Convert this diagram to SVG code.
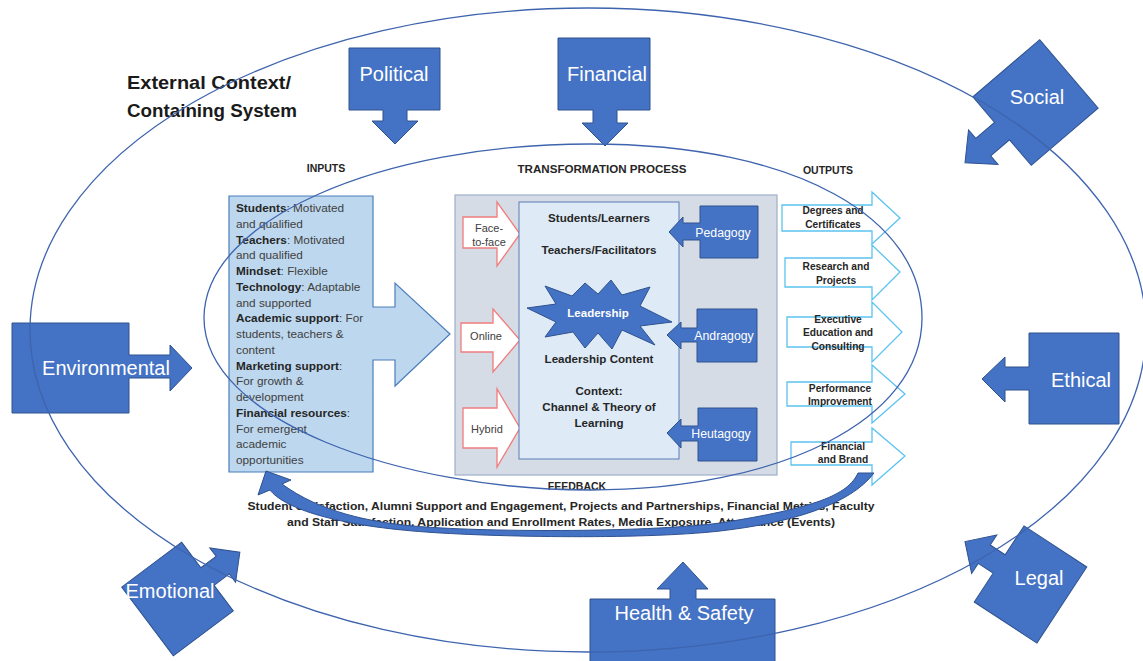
<svg xmlns="http://www.w3.org/2000/svg" width="1143" height="661" viewBox="0 0 1143 661">
<style>
.blue{fill:#4472C4;stroke:#2F528F;stroke-width:1}
.wt{fill:#fff;font-family:"Liberation Sans",Arial,sans-serif;font-size:20px;text-anchor:middle}
.ws{fill:#fff;font-family:"Liberation Sans",Arial,sans-serif;font-size:12.3px;text-anchor:middle}
.ring{fill:none;stroke:#3E64AE;stroke-width:1.3}
.out{fill:#fff;stroke:#5BC3F0;stroke-width:1.3}
.red{fill:#fff;stroke:#F07C7C;stroke-width:1.3}
.ot{font-family:"Liberation Sans",Arial,sans-serif;font-weight:bold;font-size:10.2px;fill:#262626;text-anchor:middle}
.hd{font-family:"Liberation Sans",Arial,sans-serif;font-weight:bold;font-size:10.5px;fill:#262626;text-anchor:middle}
.ct{font-family:"Liberation Sans",Arial,sans-serif;font-weight:bold;font-size:11.6px;fill:#262626;text-anchor:middle}
.in{font-family:"Liberation Sans",Arial,sans-serif;font-size:11.8px;fill:#404040}
.in tspan.b{font-weight:bold;fill:#262626}
.rt{font-family:"Liberation Sans",Arial,sans-serif;font-size:11px;fill:#404040;text-anchor:middle}
</style>
<rect width="1143" height="661" fill="#fff"/>

<g id="title">
<text font-family="Liberation Sans, Arial, sans-serif" font-weight="bold" font-size="19px" fill="#1a1a1a"><tspan x="127" y="89" textLength="164" lengthAdjust="spacingAndGlyphs">External Context/</tspan><tspan x="127" y="117" textLength="170" lengthAdjust="spacingAndGlyphs">Containing System</tspan></text>
</g>

<g id="political">
<polygon class="blue" points="349,48 440,48 440,110 407,110 407,121 418,121 395,144 372,121 383,121 383,110 349,110"/>
<text class="wt" x="394" y="81">Political</text>
</g>
<g id="financial">
<polygon class="blue" points="558,38 650,38 650,110 617,110 617,123 628,123 605,146 582,123 593,123 593,110 558,110"/>
<text class="wt" x="607" y="81">Financial</text>
</g>
<g id="social">
<polygon class="blue" transform="translate(1035.5,102.5) rotate(139.5)" points="-44,-45 44,-45 44,-11.5 68.7,-11.5 68.7,-22.7 92.7,0 68.7,22.7 68.7,11.5 44,11.5 44,45 -44,45"/>
<text class="wt" x="1037" y="104">Social</text>
</g>
<g id="environmental">
<polygon class="blue" points="12,323 129,323 129,355 170,355 170,345 192,368 170,391 170,378 129,378 129,413 12,413"/>
<text class="wt" x="106" y="375">Environmental</text>
</g>
<g id="ethical">
<polygon class="blue" points="1029,333 1119,333 1119,424 1029,424 1029,390 1005,390 1005,402 982,379 1005,357 1005,367 1029,367"/>
<text class="wt" x="1081" y="387">Ethical</text>
</g>
<g id="emotional">
<polygon class="blue" transform="translate(177.5,599) rotate(-36.9)" points="-37.5,-43 37.5,-43 37.5,-11 56.5,-11 56.5,-21.5 78,0 56.5,21.5 56.5,11 37.5,11 37.5,43 -37.5,43"/>
<text class="wt" x="170" y="598">Emotional</text>
</g>
<g id="legal">
<polygon class="blue" transform="translate(1030.5,584.5) rotate(-146.8)" points="-37.5,-45.5 37.5,-45.5 37.5,-11 55.3,-11 55.3,-23 78.3,0 55.3,23 55.3,11 37.5,11 37.5,45.5 -37.5,45.5"/>
<text class="wt" x="1039" y="585">Legal</text>
</g>
<g id="health-safety">
<polygon class="blue" points="590,599 670,599 670,589 657,589 683,562 708,589 696,589 696,599 775,599 775,668 590,668"/>
<text class="wt" x="684" y="620">Health &amp; Safety</text>
</g>

<g id="section-labels">
<text class="hd" x="326" y="172">INPUTS</text>
<text class="hd" x="602" y="173" textLength="169" lengthAdjust="spacingAndGlyphs">TRANSFORMATION PROCESS</text>
<text class="hd" x="828" y="174">OUTPUTS</text>
</g>

<g id="inputs">
<polygon points="229,196 373,196 373,307 395,307 395,283 450,334 395,386 395,360 373,360 373,472 229,472" fill="#BDD7EE" stroke="#4A7EBB" stroke-width="1.2"/>
<text class="in" x="236" y="212"><tspan class="b">Students</tspan>: Motivated</text>
<text class="in" x="236" y="227.8">and qualified</text>
<text class="in" x="236" y="243.5"><tspan class="b">Teachers</tspan>: Motivated</text>
<text class="in" x="236" y="259.3">and qualified</text>
<text class="in" x="236" y="275"><tspan class="b">Mindset</tspan>: Flexible</text>
<text class="in" x="236" y="290.8"><tspan class="b">Technology</tspan>: Adaptable</text>
<text class="in" x="236" y="306.5">and supported</text>
<text class="in" x="236" y="322.3"><tspan class="b">Academic support</tspan>: For</text>
<text class="in" x="236" y="338">students, teachers &amp;</text>
<text class="in" x="236" y="353.8">content</text>
<text class="in" x="236" y="369.5"><tspan class="b">Marketing support</tspan>:</text>
<text class="in" x="236" y="385.3">For growth &amp;</text>
<text class="in" x="236" y="401">development</text>
<text class="in" x="236" y="416.8"><tspan class="b">Financial resources</tspan>:</text>
<text class="in" x="236" y="432.5">For emergent</text>
<text class="in" x="236" y="448.3">academic</text>
<text class="in" x="236" y="464">opportunities</text>
</g>

<g id="transformation">
<rect x="455" y="195" width="322" height="280" fill="#D6DCE5" stroke="#9DAFC8" stroke-width="1.2"/>
</g>
<g id="face-to-face">
<polygon class="red" points="463,217 497,217 497,202 520,234 497,266 497,248 463,248"/>
<text class="rt" x="489" y="232">Face-</text>
<text class="rt" x="489" y="246">to-face</text>
</g>
<g id="online">
<polygon class="red" points="461,323 493,323 493,309 520,340 493,372 493,352 461,352"/>
<text class="rt" x="486" y="340">Online</text>
</g>
<g id="hybrid">
<polygon class="red" points="463,408 497,408 497,389 520,428 497,467 497,448 463,448"/>
<text class="rt" x="487" y="433">Hybrid</text>
</g>
<g id="core">
<rect x="519" y="202" width="160" height="257" fill="#DEEBF7" stroke="#5B7DB8" stroke-width="1"/>
<text class="ct" x="599" y="222">Students/Learners</text>
<text class="ct" x="599" y="254">Teachers/Facilitators</text>
<text class="ct" x="599" y="363">Leadership Content</text>
<text class="ct" x="599" y="395">Context:</text>
<text class="ct" x="599" y="411">Channel &amp; Theory of</text>
<text class="ct" x="599" y="427">Learning</text>
</g>
<g id="leadership">
<polygon class="blue" points="527,308 556,304 545,286 572,296 585,283 598,294 611,280 622,295 650,287 640,306 672,322 640,326 655,345 622,330 612,349 598,333 585,348 573,332 545,337 556,322"/>
<text x="598" y="317" fill="#fff" font-family="Liberation Sans, Arial, sans-serif" font-weight="bold" font-size="11.5px" text-anchor="middle">Leadership</text>
</g>
<g id="pedagogy">
<polygon class="blue" points="700,206 758,206 758,258 700,258 700,240 683,240 683,247 669,232 683,217 683,223 700,223"/>
<text class="ws" x="723" y="237">Pedagogy</text>
</g>
<g id="andragogy">
<polygon class="blue" points="697,309 757,309 757,362 697,362 697,342 681,342 681,349 667,335 681,322 681,328 697,328"/>
<text class="ws" x="724" y="340">Andragogy</text>
</g>
<g id="heutagogy">
<polygon class="blue" points="698,408 757,408 757,461 698,461 698,441 681,441 681,448 667,433 681,419 681,426 698,426"/>
<text class="ws" x="721" y="438">Heutagogy</text>
</g>

<g id="out-degrees">
<polygon class="out" points="782,205 872,205 872,192 900,218 872,244 872,231 782,231"/>
<text class="ot" x="833" y="214">Degrees and</text>
<text class="ot" x="833" y="228">Certificates</text>
</g>
<g id="out-research">
<polygon class="out" points="785,258 872,258 872,245 900,272 872,300 872,287 785,287"/>
<text class="ot" x="836" y="270">Research and</text>
<text class="ot" x="836" y="284">Projects</text>
</g>
<g id="out-executive">
<polygon class="out" points="787,317 872,317 872,302 902,332 872,362 872,347 787,347"/>
<text class="ot" x="838" y="323">Executive</text>
<text class="ot" x="838" y="336">Education and</text>
<text class="ot" x="838" y="350">Consulting</text>
</g>
<g id="out-performance">
<polygon class="out" points="787,382 872,382 872,365 905,394 872,423 872,406 787,406"/>
<text class="ot" x="840" y="392">Performance</text>
<text class="ot" x="840" y="405">Improvement</text>
</g>
<g id="out-financial">
<polygon class="out" points="791,442 872,442 872,428 905,456 872,485 872,465 791,465"/>
<text class="ot" x="843" y="450">Financial</text>
<text class="ot" x="843" y="463">and Brand</text>
</g>

<g id="feedback">
<text class="hd" x="577" y="490">FEEDBACK</text>
<text class="hd" x="561" y="510" textLength="627" lengthAdjust="spacingAndGlyphs">Student Satisfaction, Alumni Support and Engagement,  Projects and Partnerships, Financial Metrics, Faculty</text>
<text class="hd" x="561" y="526" textLength="548" lengthAdjust="spacingAndGlyphs">and Staff Satisfaction, Application and Enrollment Rates, Media Exposure, Attendance (Events)</text>
</g>

<g id="context-rings">
<ellipse class="ring" cx="588" cy="330" rx="558" ry="322"/>
<path class="ring" d="M204,318 C204,220 380,144 590,144 C800,144 922,220 922,318 C922,420 780,490 590,490 C400,490 204,420 204,318 Z"/>
</g>

<g id="connectors">
<path class="blue" d="M858,473 C848,495 815,508 720,523 C640,533 480,532 413,526 C370,522 320,512 282,484 L291,480 L266,471 L258,495 L270,490 C283,507 330,524 413,531 C480,537 640,540 720,531 C790,523 850,505 874,473 Z"/>
</g>
</svg>
